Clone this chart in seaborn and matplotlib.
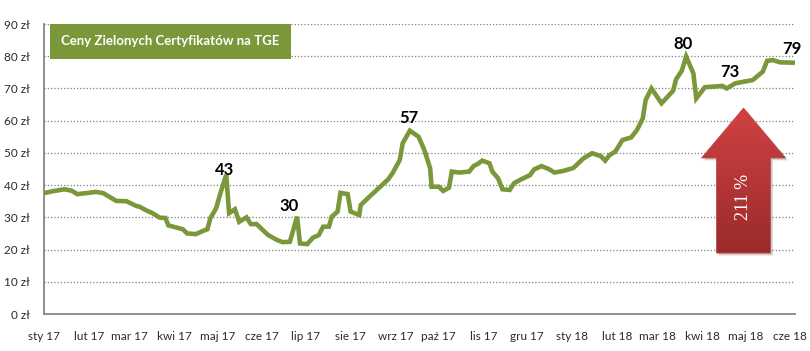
import numpy as np
import pandas as pd
import matplotlib
matplotlib.use("Agg")
import matplotlib.pyplot as plt
from matplotlib.patches import Polygon, Rectangle
import seaborn as sns

# ceny zielonych certyfikatow (PMOZE_A)
daty = [
    "2017-01-02", "2017-01-07", "2017-01-15", "2017-01-20", "2017-01-24", "2017-01-30",
    "2017-02-06", "2017-02-11", "2017-02-14", "2017-02-20", "2017-02-27", "2017-03-06",
    "2017-03-08", "2017-03-13", "2017-03-17", "2017-03-22", "2017-03-26", "2017-03-28",
    "2017-04-02", "2017-04-07", "2017-04-10", "2017-04-16", "2017-04-21", "2017-04-24",
    "2017-04-26", "2017-04-30", "2017-05-03", "2017-05-07", "2017-05-09", "2017-05-13",
    "2017-05-16", "2017-05-21", "2017-05-24", "2017-05-28", "2017-05-31", "2017-06-05",
    "2017-06-11", "2017-06-15", "2017-06-20", "2017-06-25", "2017-06-27", "2017-07-02",
    "2017-07-06", "2017-07-10", "2017-07-13", "2017-07-17", "2017-07-19", "2017-07-23",
    "2017-07-25", "2017-07-30", "2017-08-01", "2017-08-07", "2017-08-08", "2017-08-14",
    "2017-08-21", "2017-08-27", "2017-08-30", "2017-09-04", "2017-09-06", "2017-09-11",
    "2017-09-17", "2017-09-21", "2017-09-25", "2017-09-26", "2017-10-01", "2017-10-04",
    "2017-10-08", "2017-10-10", "2017-10-15", "2017-10-22", "2017-10-25", "2017-10-28",
    "2017-10-31", "2017-11-05", "2017-11-07", "2017-11-11", "2017-11-14", "2017-11-19",
    "2017-11-22", "2017-11-27", "2017-12-03", "2017-12-06", "2017-12-11", "2017-12-16",
    "2017-12-20", "2017-12-26", "2018-01-02", "2018-01-09", "2018-01-15", "2018-01-21",
    "2018-01-24", "2018-01-27", "2018-01-31", "2018-02-05", "2018-02-11", "2018-02-15",
    "2018-02-19", "2018-02-21", "2018-02-25", "2018-03-04", "2018-03-12", "2018-03-14",
    "2018-03-18", "2018-03-21", "2018-03-26", "2018-03-28", "2018-04-03", "2018-04-10",
    "2018-04-15", "2018-04-18", "2018-04-24", "2018-05-06", "2018-05-13", "2018-05-16",
    "2018-05-20", "2018-05-25", "2018-06-04",
]
ceny = [
    37.6, 38.1, 38.7, 38.3, 37.2, 37.5,
    37.9, 37.5, 36.7, 35.1, 35.0, 33.5,
    33.3, 32.1, 31.3, 29.9, 29.8, 27.5,
    26.9, 26.3, 25.0, 24.8, 25.8, 26.3,
    29.7, 32.8, 37.5, 43.2, 31.3, 32.5,
    28.6, 30.0, 27.9, 27.9, 26.6, 24.5,
    23.0, 22.3, 22.4, 30.2, 21.9, 21.7,
    23.7, 24.5, 27.1, 27.1, 30.2, 31.8,
    37.6, 37.2, 31.8, 30.7, 33.8, 36.4,
    39.3, 41.8, 43.7, 47.8, 53.0, 56.9,
    55.0, 50.9, 45.2, 39.5, 39.5, 38.2,
    39.2, 44.2, 43.9, 44.2, 45.9, 46.6,
    47.6, 46.8, 44.2, 42.1, 38.7, 38.5,
    40.6, 41.8, 43.1, 44.9, 45.9, 45.0,
    43.9, 44.4, 45.3, 48.3, 49.9, 49.0,
    47.6, 49.3, 50.4, 54.0, 54.8, 57.1,
    60.7, 66.4, 70.0, 65.4, 69.3, 72.8,
    75.5, 79.9, 74.7, 66.9, 70.4, 70.6,
    70.8, 70.0, 71.6, 72.6, 75.2, 78.6,
    78.8, 78.1, 78.0,
]

# etykiety wartosci przy wybranych punktach
etykiety_daty = ["2017-05-07", "2017-06-25", "2017-09-11", "2018-03-21", "2018-04-18", "2018-06-04"]
etykiety_tekst = ["43", "30", "57", "80", "73", "79"]

miesiace = ["sty", "lut", "mar", "kwi", "maj", "cze", "lip", "sie", "wrz", "paź", "lis", "gru",
            "sty", "lut", "mar", "kwi", "maj", "cze"]
lata = ["17"] * 12 + ["18"] * 6
y_ticks = [0, 10, 20, 30, 40, 50, 60, 70, 80, 90]

tytul = "Ceny Zielonych Certyfikatów na TGE"
wzrost = "211 %"

sns.set_style("white")
plt.rcParams['font.family'] = ['Lato', 'DejaVu Sans']

df = pd.DataFrame({"data": pd.to_datetime(daty), "cena": ceny})

fig, ax = plt.subplots(figsize=(8.1, 3.51), dpi=100)
fig.subplots_adjust(left=0.0543, right=0.981, bottom=0.1054, top=0.9316)

zielony = "#7a983a"
sns.lineplot(data=df, x="data", y="cena", ax=ax, color=zielony, linewidth=3.3,
             solid_joinstyle="miter", zorder=3)

ax.set_xlim(pd.Timestamp("2017-01-01"), pd.Timestamp("2018-06-04"))
ax.set_ylim(0, 90)

# osie
szary = "#868686"
for s in ["top", "right"]:
    ax.spines[s].set_visible(False)
for s in ["left", "bottom"]:
    ax.spines[s].set_color(szary)
    ax.spines[s].set_linewidth(1.3)

ax.set_yticks(y_ticks)
ax.set_yticklabels([f"{v} zł" for v in y_ticks])
xt = pd.date_range("2017-01-01", periods=len(miesiace), freq="MS")
ax.set_xticks(xt)
ax.set_xticklabels([f"{m} {r}" for m, r in zip(miesiace, lata)])
ax.tick_params(axis="both", length=4, width=1.2, color=szary, labelsize=8.5,
               labelcolor="#2b2b2b", pad=6)
ax.tick_params(axis="x", pad=8)
ax.set_xlabel("")
ax.set_ylabel("")

for v in y_ticks[1:]:
    ax.axhline(v, color="#7f7f7f", linewidth=0.9, linestyle=(0, (1, 1.6)), zorder=1)

# wartosci
przes = {"43": (-1, -2), "30": (-6, 2), "57": (-1, 3), "80": (-2, 3), "73": (2, 6), "79": (-2, 4)}
for d, t in zip(etykiety_daty, etykiety_tekst):
    ts = pd.Timestamp(d)
    y = df.loc[df["data"] == ts, "cena"].iloc[0]
    ax.annotate(t, (ts, y), xytext=przes[t], textcoords="offset points",
                ha="center", va="bottom", fontsize=12, color="black",
                fontweight="bold", zorder=5, annotation_clip=False)

# ramka z tytulem
ax.add_patch(Rectangle((0.008, 0.879), 0.321, 0.121, transform=ax.transAxes,
                       facecolor=zielony, edgecolor="none", zorder=4, clip_on=False))
ax.text(0.0226, 0.941, tytul, transform=ax.transAxes, ha="left", va="center",
        color="white", fontsize=9.5, fontweight="bold", zorder=5)

# strzalka wzrostu
pts = np.array([[0.896, 0.210], [0.968, 0.210], [0.968, 0.538], [0.988, 0.538],
                [0.932, 0.710], [0.876, 0.538], [0.896, 0.538]])
cien = Polygon(pts + np.array([0.003, -0.008]), closed=True, transform=ax.transAxes,
               facecolor="#000000", alpha=0.18, edgecolor="none", zorder=4)
ax.add_patch(cien)
strz = Polygon(pts, closed=True, transform=ax.transAxes, facecolor="none",
               edgecolor="#b94a4a", linewidth=0.6, zorder=6)
ax.add_patch(strz)
grad = np.linspace(0, 1, 256).reshape(-1, 1)
cmap = matplotlib.colors.LinearSegmentedColormap.from_list("r", ["#9b2a2b", "#d04242"])
im = ax.imshow(grad, cmap=cmap, origin="lower", aspect="auto",
               extent=[0.876, 0.988, 0.210, 0.710], transform=ax.transAxes, zorder=5)
im.set_clip_path(strz)
ax.set_xlim(pd.Timestamp("2017-01-01"), pd.Timestamp("2018-06-04"))
ax.set_ylim(0, 90)
ax.text(0.932, 0.405, wzrost, transform=ax.transAxes, rotation=90, ha="center",
        va="center", color="white", fontsize=13, family=["Liberation Serif", "DejaVu Serif"],
        zorder=7)

fig.savefig("out.png", dpi=100)
